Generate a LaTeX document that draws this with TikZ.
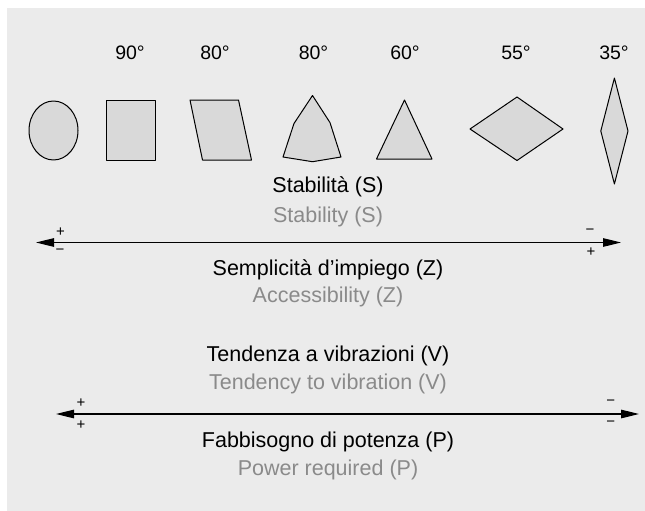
\documentclass[tikz,border=0pt]{standalone}
\usepackage{fontspec}
\setmainfont{Liberation Sans}
\usetikzlibrary{arrows.meta, positioning}
\definecolor{bggray}{HTML}{EBEBEB}
\definecolor{shapegray}{HTML}{D9D9D9}
\definecolor{engray}{HTML}{8A8A8A}
\tikzstyle{shapefill} = [draw=black, 
fill=shapegray, 
line width=1pt, 
line join=round]
\tikzstyle{anglelabel} = [font=\fontsize{19.5}{23}\selectfont, 
inner sep=0pt]
\tikzstyle{itlabel} = [font=\fontsize{21.5}{25}\selectfont, 
text=black, 
inner sep=0pt]
\tikzstyle{enlabel} = [font=\fontsize{21.5}{25}\selectfont, 
text=engray, 
inner sep=0pt]
\tikzstyle{sign} = [font=\fontsize{15}{17}\selectfont, 
inner sep=0pt]
\tikzstyle{arrow} = [line width=1.2pt, 
{Triangle[length=18pt,width=8.5pt]}-{Triangle[length=18pt,width=8.5pt]}]

\begin{document}
\begin{tikzpicture}[x=1pt, y=-1pt]

        \useasboundingbox (0,0) rectangle (645,511);
        \fill [bggray] (7,8) rectangle (645,511);

        % shapes
        \draw [shapefill] (53.5,130.5) ellipse [x radius=24.5pt, y radius=29.5pt];
        \draw [shapefill] (106.5,100) rectangle (155,160.5);
        \draw [shapefill] (190,100) -- (238.5,100) -- (251.5,160) -- (202.5,160) -- cycle;
        \draw [shapefill] (312.5,95.5) -- (330,122.6) -- (341,157) -- (312.5,161.7) -- (283,157) -- (294,123.5) -- cycle;
        \draw [shapefill] (404.5,100) -- (432,159) -- (376.5,159) -- cycle;
        \draw [shapefill] (470,129) -- (517,97) -- (563,129) -- (517,160.5) -- cycle;
        \draw [shapefill] (614.4,78) -- (628,131) -- (614.4,184) -- (600.8,131) -- cycle;

        \node (ang_square) [anglelabel] at (130,53) {90°};
        \node (ang_parall) [anglelabel] at (215,53) {80°};
        \node (ang_penta) [anglelabel] at (313.5,53) {80°};
        \node (ang_tri) [anglelabel] at (405,53) {60°};
        \node (ang_rhomb) [anglelabel] at (516,53) {55°};
        \node (ang_thin) [anglelabel] at (614,53) {35°};

        % first scale
        \node (stab_it) [itlabel] at (328,187) {Stabilità (S)};
        \node (stab_en) [enlabel] at (328,216.5) {Stability (S)};
        \coordinate (s_left) at (36,242.5);
        \coordinate (s_right) at (621,242.5);
        \draw [arrow] (s_left) -- (s_right);
        \node (sempl_it) [itlabel] at (328,270) {Semplicità d’impiego (Z)};
        \node (sempl_en) [enlabel] at (328,297) {Accessibility (Z)};

        \node (sl_up) [sign] at (60.5,232) {+};
        \node (sl_dn) [sign] at (60,252) {−};
        \node (sr_up) [sign] at (590,231.5) {−};
        \node (sr_dn) [sign] at (591,252.5) {+};

        % second scale
        \node (vib_it) [itlabel] at (328,355.5) {Tendenza a vibrazioni (V)};
        \node (vib_en) [enlabel] at (328,384) {Tendency to vibration (V)};
        \coordinate (v_left) at (56,414);
        \coordinate (v_right) at (639,414);
        \draw [arrow] (v_left) -- (v_right);
        \node (pot_it) [itlabel] at (328,442) {Fabbisogno di potenza (P)};
        \node (pot_en) [enlabel] at (328,470) {Power required (P)};

        \node (vl_up) [sign] at (81,403.5) {+};
        \node (vl_dn) [sign] at (81,425) {+};
        \node (vr_up) [sign] at (610.7,403) {−};
        \node (vr_dn) [sign] at (610.7,424) {−};

    \end{tikzpicture}
\end{document}
